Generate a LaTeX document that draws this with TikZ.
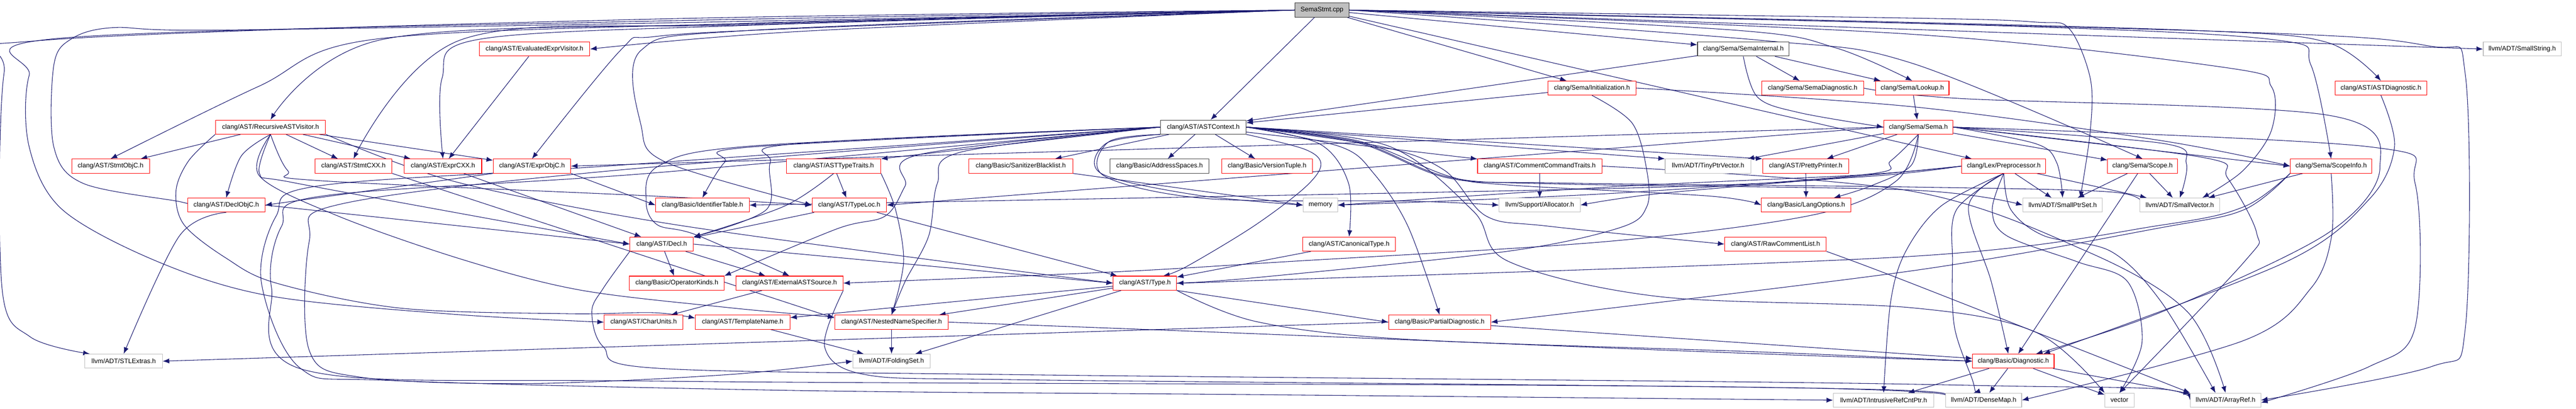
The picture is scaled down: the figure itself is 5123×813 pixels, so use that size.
\documentclass[tikz,border=0pt]{standalone}
\usepackage{fontspec}
\setmainfont{Liberation Sans}
\usetikzlibrary{arrows.meta}
\definecolor{eb}{HTML}{191970}
\definecolor{rb}{HTML}{FF0000}
\definecolor{gb}{HTML}{BFBFBF}
\pgfdeclarelayer{bg}
\pgfsetlayers{bg,main}
\newcommand\Nd[5]{\node[#1,minimum width=#2pt] (#3) at (#4) {#5};}
\newcommand\Pl[1]{\draw[conn] plot[smooth,tension=0.55] coordinates {#1};}
\begin{document}
\begin{tikzpicture}[x=1pt,y=-1pt,
  nd/.style={draw,line width=1.1pt,fill=white,font=\fontsize{13}{15}\selectfont,inner xsep=3pt,inner ysep=0pt,minimum height=28pt,text=black},
  rn/.style={nd,draw=rb},
  gn/.style={nd,draw=gb},
  kn/.style={nd,draw=black!75},
  rootbox/.style={nd,draw=black!80,fill=gb},
  conn/.style={draw=eb,line width=1.1pt,-{Latex[length=13pt,width=10pt]}}]
\useasboundingbox (0,0) rectangle (5123,813);
% row 0-3
\Nd{rootbox}{108}{SS}{2629,20}{SemaStmt.cpp}
\Nd{rn}{220}{EEV}{1063,97.6}{clang/AST/EvaluatedExprVisitor.h}
\Nd{kn}{182}{SI}{3467,97.6}{clang/Sema/SemaInternal.h}
\Nd{gn}{155}{SStr}{5016,97.6}{llvm/ADT/SmallString.h}
\Nd{rn}{175}{Init}{3166,175.2}{clang/Sema/Initialization.h}
\Nd{rn}{202}{SD}{3605,175.2}{clang/Sema/SemaDiagnostic.h}
\Nd{rn}{146}{Lk}{3803,175.2}{clang/Sema/Lookup.h}
\Nd{rn}{183}{ASTD}{4735,175.2}{clang/AST/ASTDiagnostic.h}
\Nd{rn}{219}{RAV}{538,252.8}{clang/AST/RecursiveASTVisitor.h}
\Nd{kn}{170}{AC}{2393,252.8}{clang/AST/ASTContext.h}
\Nd{rn}{138}{Sema}{3815,252.8}{clang/Sema/Sema.h}
% row 4
\Nd{rn}{155}{SOC}{220,330.4}{clang/AST/StmtObjC.h}
\Nd{rn}{153}{SCXX}{703,330.4}{clang/AST/StmtCXX.h}
\Nd{rn}{154}{ECXX}{881,330.4}{clang/AST/ExprCXX.h}
\Nd{rn}{154}{EOC}{1058,330.4}{clang/AST/ExprObjC.h}
\Nd{rn}{187}{ATT}{1658,330.4}{clang/AST/ASTTypeTraits.h}
\Nd{rn}{207}{SB}{2030,330.4}{clang/Basic/SanitizerBlacklist.h}
\Nd{kn}{197}{AS}{2306,330.4}{clang/Basic/AddressSpaces.h}
\Nd{rn}{181}{VT}{2520,330.4}{clang/Basic/VersionTuple.h}
\Nd{rn}{247}{CCT}{3062,330.4}{clang/AST/CommentCommandTraits.h}
\Nd{gn}{171}{TPV}{3397,330.4}{llvm/ADT/TinyPtrVector.h}
\Nd{rn}{171}{PP}{3591,330.4}{clang/AST/PrettyPrinter.h}
\Nd{rn}{167}{PPR}{3985,330.4}{clang/Lex/Preprocessor.h}
\Nd{rn}{139}{Sc}{4261,330.4}{clang/Sema/Scope.h}
\Nd{rn}{162}{SInfo}{4636,330.4}{clang/Sema/ScopeInfo.h}
% row 5
\Nd{rn}{154}{DOC}{450,408}{clang/AST/DeclObjC.h}
\Nd{rn}{186}{IT}{1397,408}{clang/Basic/IdentifierTable.h}
\Nd{rn}{148}{TL}{1689,408}{clang/AST/TypeLoc.h}
\Nd{gn}{68}{mem}{2626,408}{memory}
\Nd{gn}{161}{Alloc}{3062,408}{llvm/Support/Allocator.h}
\Nd{rn}{178}{LO}{3592,408}{clang/Basic/LangOptions.h}
\Nd{gn}{158}{SPS}{4102,408}{llvm/ADT/SmallPtrSet.h}
\Nd{gn}{159}{SV}{4335,408}{llvm/ADT/SmallVector.h}
% row 6
\Nd{rn}{126}{Decl}{1316,485.6}{clang/AST/Decl.h}
\Nd{rn}{185}{CT}{2683,485.6}{clang/AST/CanonicalType.h}
\Nd{rn}{202}{RCL}{3531,485.6}{clang/AST/RawCommentList.h}
% row 7
\Nd{rn}{188}{OK}{1346,563.2}{clang/Basic/OperatorKinds.h}
\Nd{rn}{213}{EAS}{1570,563.2}{clang/AST/ExternalASTSource.h}
\Nd{rn}{126}{Type}{2277,563.2}{clang/AST/Type.h}
% row 8
\Nd{rn}{157}{CU}{1280,640.8}{clang/AST/CharUnits.h}
\Nd{rn}{188}{TN}{1477,640.8}{clang/AST/TemplateName.h}
\Nd{rn}{226}{NNS}{1773,640.8}{clang/AST/NestedNameSpecifier.h}
\Nd{rn}{203}{PD}{2863,640.8}{clang/Basic/PartialDiagnostic.h}
% row 9
\Nd{gn}{154}{STL}{246,718.4}{llvm/ADT/STLExtras.h}
\Nd{gn}{154}{FS}{1773,718.4}{llvm/ADT/FoldingSet.h}
\Nd{rn}{162}{Diag}{4004,718.4}{clang/Basic/Diagnostic.h}
% row 10
\Nd{gn}{200}{IRC}{3746,796}{llvm/ADT/IntrusiveRefCntPtr.h}
\Nd{gn}{151}{DM}{3945,796}{llvm/ADT/DenseMap.h}
\Nd{gn}{58}{vec}{4215,796}{vector}
\Nd{gn}{140}{AR}{4426,796}{llvm/ADT/ArrayRef.h}

\begin{pgfonlayer}{bg}
% SemaStmt.cpp
\draw[conn] (SS) -- (SI);
\draw[conn] (SS) -- (AC);
\Pl{(SS.east) (3700,42) (4400,62) (4630,85) (ASTD.north)}
\Pl{(SS.west) (1300,42) (120,76) (58,150) (58,292) (124,417) (315,521) (539,589) (900,625) (CU.west)}
\Pl{(SS.west) (1300,46) (420,60) (224,55) (141,78) (107,130) (107,292) (166,365) (357,401) (DOC.west)}
\Pl{(SS.west) (1600,62) (EEV.east)}
\Pl{(SS.west) (1500,50) (954,78) (879,156) (ECXX.north)}
\Pl{(SS.west) (1600,56) (1300,73) (1235,99) (EOC.north)}
\Pl{(SS.west) (1500,47) (763,78) (RAV.north)}
\Pl{(SS.west) (1500,49) (920,78) (SCXX.north)}
\Pl{(SS.west) (1500,46) (746,78) (514,172) (SOC.north)}
\Pl{(SS.west) (1500,60) (1275,100) (1275,250) (1325,323) (TL.west)}
\draw[conn] (SS) -- (PPR);
\draw[conn] (SS) -- (Init);
\Pl{(SS.east) (3450,60) (3650,95) (Lk.north)}
\Pl{(SS.east) (3500,80) (3800,125) (Sc.north)}
\Pl{(SS.east) (4000,52) (4530,80) (4596,130) (SInfo.north)}
\Pl{(SS.east) (4400,62) (4828,91) (4903,150) (4903,651) (4836,729) (AR.east)}
\draw[conn] (SS.east) -- (SStr.west);
\Pl{(SS.west) (1300,38) (75,81) (8,146) (4,573) (60,670) ([xshift=10pt]STL.north west)}
\Pl{(SS.east) (3800,36) (4049,44) (4115,57) (4157,156) (4157,260) ([xshift=35pt]SPS.north)}
\Pl{(SS.east) (3800,68) (4430,135) (4517,172) (4517,260) (4460,340) ([xshift=45pt]SV.north)}
% SemaInternal
\draw[conn] (SI) -- (AC);
\draw[conn] (SI) -- (SD);
\draw[conn] (SI) -- (Lk);
\Pl{(SI.south) (3495,193) (3578,224) (Sema.west)}
% Initialization
\draw[conn] (Init) -- (AC);
\Pl{(Init.south) (3246,245) (3275,339) (3275,411) (3221,453) (2997,500) (2500,552) (Type.east)}
\Pl{(Init.east) (3800,212) (4300,280) (SInfo.west)}
% Lookup, diagnostics
\draw[conn] (Lk) -- (Sema);
\Pl{(SD.east) (3900,196) (4629,229) (4733,333) (4629,464) (4300,620) ([xshift=45pt]Diag.north)}
\Pl{(ASTD.south) (4762,292) (4712,396) (4546,521) ([xshift=60pt]Diag.north)}
% Sema.h
\draw[conn] (Sema) -- (TPV);
\draw[conn] (Sema) -- (PP);
\Pl{(Sema.south) (3800,330) (3720,370) ([xshift=55pt]LO.north)}
\draw[conn] (Sema) -- (Sc);
\draw[conn] (Sema.east) -- (SInfo.west);
\Pl{(Sema.east) (4049,286) (4090,323) (SPS.north)}
\Pl{(Sema.east) (4300,285) (4348,325) (SV.north)}
\Pl{(Sema.east) (4380,313) (4430,354) (4488,464) (4463,521) (vec.north)}
\Pl{(Sema.east) (4712,292) (4803,365) (4803,651) (4712,729) ([yshift=-5pt]AR.east)}
\Pl{(Sema.south) (3760,320) (3710,347) (3200,385) (mem.east)}
\Pl{(Sema.south) (3771,360) (3608,427) (3200,480) (2550,521) (2212,541) (EAS.east)}
\draw[conn] (Sema.west) -- (EOC.east);
\draw[conn] (Sema.west) -- (TL.east);
% Preprocessor
\Pl{(PPR.south) (3915,410) (3960,560) ([xshift=-10pt]Diag.north)}
\draw[conn] (PPR) -- (SPS);
\draw[conn] (PPR) -- (SV);
\Pl{(PPR.south) (3860,410) (3790,500) (3760,600) (IRC.north)}
\Pl{(PPR.south) (3891,417) (3883,521) (3887,651) (3924,760) ([xshift=-20pt]DM.north)}
\Pl{(PPR.south) (3962,417) (3991,469) (4132,521) (4231,560) (4260,680) (vec.north)}
\Pl{(PPR.south) (3999,417) (4065,469) (4198,500) (4297,599) ([xshift=-20pt]AR.north)}
\Pl{(PPR.west) (3700,352) (3200,375) (IT.east)}
\Pl{(PPR.west) (3700,350) (3300,385) (Alloc.east)}
\Pl{(PPR.west) (3700,348) (3200,372) (mem.east)}
% Scope, ScopeInfo
\draw[conn] (Sc) -- (SPS);
\draw[conn] (Sc) -- (SV);
\draw[conn] (Sc) -- (Diag);
\draw[conn] (SInfo) -- (SV);
\Pl{(SInfo.south west) (4463,411) (4297,448) (3800,510) (2500,558) (Type.east)}
\Pl{(SInfo.south west) (4463,417) (4297,453) (3800,539) (PD.east)}
\Pl{(SInfo.south) (4637,469) (4596,573) (4463,677) (DM.east)}
% Diagnostic
\draw[conn] (Diag) -- (IRC);
\draw[conn] (Diag) -- (DM);
\draw[conn] (Diag) -- (vec);
\draw[conn] (Diag) -- (AR);
% CommentCommandTraits, PrettyPrinter, RawCommentList
\draw[conn] (CCT) -- (Alloc);
\Pl{(CCT.east) (3800,380) (4150,500) (4350,620) (AR.north)}
\draw[conn] (PP) -- (LO);
\Pl{(RCL.south east) (3800,563) (AR.north west)}
% ASTContext
\draw[conn] (AC.west) -- (ATT.north east);
\draw[conn] (AC) -- (SB);
\draw[conn] (AC) -- (AS);
\draw[conn] (AC) -- (VT);
\draw[conn] (AC) -- (CCT);
\draw[conn] (AC.east) -- (TPV.north west);
\draw[conn] (AC.east) -- (PP.north west);
\Pl{(AC.west) (1499,292) (1441,323) (IT.north)}
\Pl{(AC.west) (1582,286) (1532,323) (1524,417) (Decl.north east)}
\Pl{(AC.south west) (2200,285) (2190,345) (2380,388) (mem.west)}
\Pl{(AC.south west) (2205,282) (2196,350) (2400,395) (2800,400) (Alloc.west)}
\Pl{(AC.east) (2700,280) (2880,350) (3000,368) (3400,390) (LO.west)}
\Pl{(AC.east) (2700,282) (2880,352) (3100,366) (3800,378) (SPS.west)}
\Pl{(AC.east) (2700,284) (2880,354) (3100,364) (3800,372) (4200,382) (SV.west)}
\Pl{(AC.east) (2624,286) (2682,365) (CT.north)}
\Pl{(AC.east) (2749,292) (2873,339) (2956,430) (3080,450) (RCL.west)}
\Pl{(AC.west) (1830,307) (1800,370) (1760,430) (1665,455) (OK.north east)}
\Pl{(AC.west) (1500,290) (1310,330) (1285,400) (1307,447) (1384,467) (EAS.north)}
\Pl{(AC.south east) (2595,297) (2627,327) (2595,373) (2493,450) (2360,530) ([xshift=36pt]Type.north)}
\Pl{(AC.east) (2666,292) (2732,345) (2800,450) (PD.north)}
\Pl{(AC.west) (1913,302) (1864,365) (1847,469) (1800,560) (NNS.north)}
\Pl{(AC.west) (1212,330) (632,370) (549,430) (520,563) (598,733) (781,757) (1600,777) (2500,785) (IRC.west)}
\Pl{(AC.west) (1300,344) (640,390) (560,450) (540,573) (610,737) (1300,758) (3000,766) (3600,772) (3850,780) (DM.west)}
\Pl{(AC.east) (2760,290) (2930,420) (3000,520) (3300,590) (3800,612) (4049,661) (vec.north west)}
\Pl{(AC.west) (1212,340) (673,407) (615,480) (615,697) (715,750) (1046,763) (1450,745) (FS.west)}
% ASTTypeTraits, SanitizerBlacklist, TypeLoc
\draw[conn] (ATT) -- (TL);
\Pl{(ATT.south) (1560,410) (Decl.north east)}
\Pl{(ATT.south east) (1781,417) (1797,521) (NNS.north)}
\draw[conn] (SB.south east) -- (mem.west);
\draw[conn] (TL) -- (Decl);
\draw[conn] (TL) -- (Type);
% Expr / Stmt / DeclObjC
\draw[conn] (EOC.south west) -- (DOC.east);
\draw[conn] (EOC.south east) -- (IT.west);
\draw[conn] (ECXX) -- (Decl);
\draw[conn] (SCXX.south east) -- ([yshift=8pt]NNS.west);
\draw[conn] (DOC.east) -- (Decl.west);
\Pl{(DOC.south) (357,469) (STL.north)}
\draw[conn] (EEV) -- (ECXX);
% RecursiveASTVisitor
\draw[conn] (RAV) -- (SOC);
\draw[conn] (RAV) -- (SCXX);
\draw[conn] (RAV) -- (ECXX);
\draw[conn] (RAV) -- (EOC);
\Pl{(RAV.south) (480,310) (DOC.north)}
\Pl{(RAV.south) (516,345) (582,363) (1000,440) (Decl.west)}
\Pl{(RAV.south) (572,339) (630,359) (1300,390) (TL.west)}
\Pl{(RAV.south) (516,350) (673,430) (922,517) (1154,577) (1450,612) ([yshift=10pt]NNS.west)}
\Pl{(RAV.south west) (375,320) (350,380) (366,447) (449,513) (549,563) (797,613) (1129,624) (1300,622) ([yshift=8pt]TN.west)}
\Pl{(RAV.south east) (900,360) (1300,440) (1800,510) (Type.west)}
% Decl
\draw[conn] (Decl) -- (OK);
\draw[conn] (Decl) -- (EAS);
\draw[conn] (Decl.east) -- (Type.west);
\Pl{(Decl.south west) (1200,573) (1177,620) (1200,690) (1300,732) (2000,745) (3500,760) (4000,768) (4300,774) (AR.west)}
% ExternalASTSource
\draw[conn] (EAS) -- (CU);
\Pl{(EAS.south east) (1640,690) (1720,745) (2000,755) (3000,765) (3600,772) (3850,782) (DM.west)}
% Type
\draw[conn] (Type) -- (NNS);
\draw[conn] (Type) -- (TN);
\draw[conn] (Type) -- (FS);
\draw[conn] (Type.south east) -- (PD.west);
\Pl{(Type.south east) (2500,640) (2800,675) (3500,700) (Diag.west)}
\draw[conn] (CT) -- (Type);
% NNS, TN, PD
\draw[conn] (NNS) -- (FS);
\Pl{(NNS.east) (2400,660) (3400,700) (Diag.west)}
\draw[conn] (TN) -- (FS);
\draw[conn] (PD) -- (Diag);
\draw[conn] (PD.west) -- (STL.east);
\end{pgfonlayer}
\end{tikzpicture}
\end{document}
